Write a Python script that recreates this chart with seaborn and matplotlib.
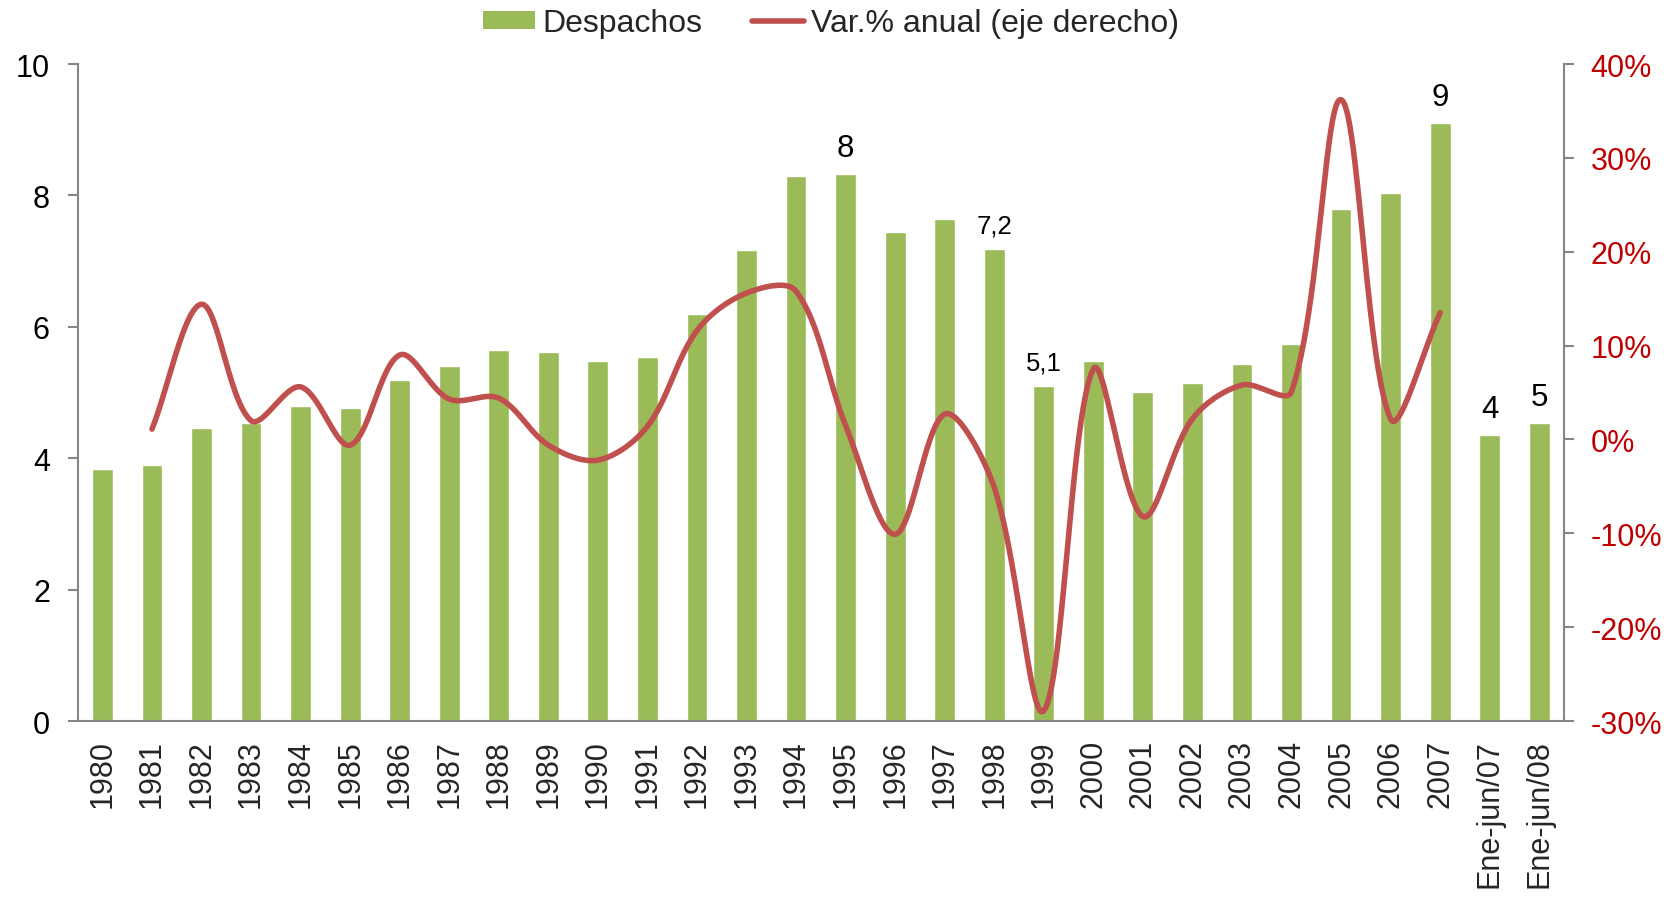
import numpy as np
import pandas as pd
import matplotlib
matplotlib.use("Agg")
import matplotlib.pyplot as plt
import seaborn as sns
from matplotlib.patches import Patch
from matplotlib.lines import Line2D

categories = ["1980", "1981", "1982", "1983", "1984", "1985", "1986", "1987", "1988", "1989",
              "1990", "1991", "1992", "1993", "1994", "1995", "1996", "1997", "1998", "1999",
              "2000", "2001", "2002", "2003", "2004", "2005", "2006", "2007",
              "Ene-jun/07", "Ene-jun/08"]
despachos = [3.84, 3.89, 4.46, 4.54, 4.80, 4.77, 5.19, 5.41, 5.64, 5.61,
             5.48, 5.54, 6.19, 7.17, 8.29, 8.32, 7.45, 7.64, 7.19, 5.10,
             5.48, 5.01, 5.14, 5.43, 5.74, 7.80, 8.03, 9.10, 4.35, 4.54]
var_anual = [np.nan, 1.1, 14.4, 2.0, 5.6, -0.6, 9.0, 4.3, 4.4, -0.6,
             -2.2, 1.4, 11.6, 15.6, 15.8, 1.5, -10.1, 2.7, -5.1, -28.9,
             7.5, -8.2, 2.2, 5.8, 5.1, 36.2, 2.2, 13.5, np.nan, np.nan]
label_idx = [15, 18, 19, 27, 28, 29]
label_txt = ["8", "7,2", "5,1", "9", "4", "5"]
label_size = [22.5, 18.5, 18.5, 22.5, 22.5, 22.5]

GREEN = "#9BBB59"
RED = "#C0504D"
AXC = "#868686"

sns.set_theme(style="white")
plt.rcParams['font.family'] = ['Liberation Sans', 'DejaVu Sans']

fig = plt.figure(figsize=(16.67, 9.03), dpi=100)
ax = fig.add_axes([0.0466, 0.2004, 0.8916, 0.7276])

df = pd.DataFrame({"cat": categories, "val": despachos})
sns.barplot(data=df, x="cat", y="val", color=GREEN, saturation=1, width=0.42, ax=ax)
ax.set_xlim(-0.5, len(categories) - 0.5)
ax.set_ylim(0, 10)
ax.set_yticks([0, 2, 4, 6, 8, 10])
ax.set_xlabel("")
ax.set_ylabel("")
ax.tick_params(axis="y", labelsize=22, colors=AXC, labelcolor="black", direction="out",
               length=7, width=1.5, left=True, pad=13)
ax.tick_params(axis="x", labelsize=22, labelrotation=90, bottom=False, pad=7)
for s in ["top", "right"]:
    ax.spines[s].set_visible(False)
for s in ["left", "bottom"]:
    ax.spines[s].set_color(AXC)
    ax.spines[s].set_linewidth(1.5)

for i, t, fs in zip(label_idx, label_txt, label_size):
    ax.annotate(t, (i, despachos[i]), xytext=(0, 8), textcoords="offset points",
                ha="center", va="bottom", fontsize=fs, color="black")

ax2 = ax.twinx()
ax2.set_ylim(-30, 40)
ax2.set_yticks(np.arange(-30, 41, 10))
ax2.set_yticklabels([f"{v}%" for v in range(-30, 41, 10)])
ax2.tick_params(axis="y", labelsize=22, colors=AXC, labelcolor="#C00000", direction="out",
                length=7, width=1.5, right=True, pad=12)
for s in ["top", "left", "bottom"]:
    ax2.spines[s].set_visible(False)
ax2.spines["right"].set_color(AXC)
ax2.spines["right"].set_linewidth(1.5)
ax2.grid(False)
ax.grid(False)

# smoothed rendering of the line (Bezier through the data points, distance-weighted tangents)
xs = np.array([i for i, v in enumerate(var_anual) if not np.isnan(v)], dtype=float)
ys = np.array([v for v in var_anual if not np.isnan(v)], dtype=float)
yscale = 0.19
P = np.column_stack([xs, ys * yscale])
Pext = np.vstack([P[0] - (P[1] - P[0]), P, P[-1] + (P[-1] - P[-2])])
d = np.linalg.norm(np.diff(Pext, axis=0), axis=1)
curve = []
for k in range(1, len(Pext) - 2):
    p0, p1, p2, p3 = Pext[k - 1], Pext[k], Pext[k + 1], Pext[k + 2]
    d01, d12, d23 = d[k - 1], d[k], d[k + 1]
    c1 = p1 + (p2 - p0) * (d12 / (d01 + d12)) / 3.0
    c2 = p2 - (p3 - p1) * (d12 / (d12 + d23)) / 3.0
    t = np.linspace(0, 1, 50)[:, None]
    seg = (1 - t) ** 3 * p1 + 3 * (1 - t) ** 2 * t * c1 + 3 * (1 - t) * t ** 2 * c2 + t ** 3 * p2
    curve.append(seg if k == 1 else seg[1:])
curve = np.vstack(curve)
sm = pd.DataFrame({"x": curve[:, 0], "y": curve[:, 1] / yscale})
sns.lineplot(data=sm, x="x", y="y", sort=False, color=RED, linewidth=4, ax=ax2, estimator=None)
ax2.set_xlabel("")
ax2.set_ylabel("")
ax2.set_xlim(-0.5, len(categories) - 0.5)

handles = [Patch(facecolor=GREEN, edgecolor="none"), Line2D([0], [0], color=RED, lw=4)]
fig.legend(handles, ["Despachos", "Var.% anual (eje derecho)"], loc="center",
           bbox_to_anchor=(0.4985, 0.973), ncol=2, frameon=False, fontsize=23,
           handlelength=1.62, handleheight=0.5, columnspacing=1.56, handletextpad=0.22)

fig.savefig("out.png", dpi=100)
